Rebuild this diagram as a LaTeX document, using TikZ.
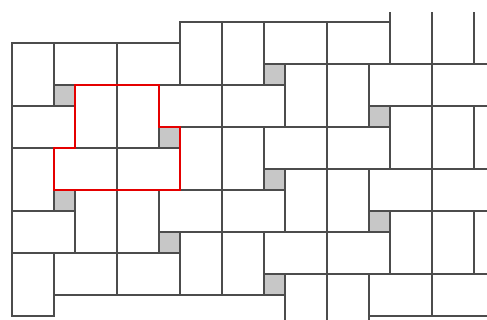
\documentclass[tikz,border=0pt]{standalone}
\begin{document}
\begin{tikzpicture}[x=0.3cm,y=-0.3cm,
  tile/.style={draw=black!70,line width=0.55pt},
  hole/.style={tile,fill=black!22},
  cell/.style={draw=red!90!black,line width=0.8pt}]
\useasboundingbox (-0.571,-2.048) rectangle (22.619,13.19);
\begin{scope}
\clip (-0.6,-1.43) rectangle (22.619,13.19);
% squares
\foreach \i/\j in {-1/0,-1/1,0/0,0/1,1/-1,1/0,1/1,2/-1,2/0}
\draw[hole,shift={(5*\i,2*\i+5*\j)}] (7,4) rectangle (8,5);
% standing bricks
\foreach \i/\j in {0/0,0/1,1/-1,1/0,1/1,2/-1,2/0,2/1,3/-2,3/-1,3/0}
\draw[tile,shift={(5*\i,2*\i+5*\j)}] (3,2) rectangle (5,5);
\foreach \i/\j in {-1/0,-1/1,-1/2,0/0,0/1,1/-1,1/0,1/1,2/-1,2/0,2/1,3/-2,3/-1,3/0}
\draw[tile,shift={(5*\i,2*\i+5*\j)}] (5,2) rectangle (7,5);
% lying bricks
\foreach \i/\j in {0/-1,0/0,0/1,1/-1,1/0,2/-2,2/-1,2/0,3/-2,3/-1,3/0}
\draw[tile,shift={(5*\i,2*\i+5*\j)}] (2,5) rectangle (5,7);
\foreach \i/\j in {-1/0,-1/1,0/-1,0/0,0/1,1/-1,1/0,2/-2,2/-1,2/0,3/-2,3/-1,3/0}
\draw[tile,shift={(5*\i,2*\i+5*\j)}] (5,5) rectangle (8,7);
\end{scope}
% fundamental region
\draw[cell] (3,2) -- (7,2) -- (7,4) -- (8,4) -- (8,7) -- (2,7) -- (2,5) -- (3,5) -- cycle;
\end{tikzpicture}
\end{document}
